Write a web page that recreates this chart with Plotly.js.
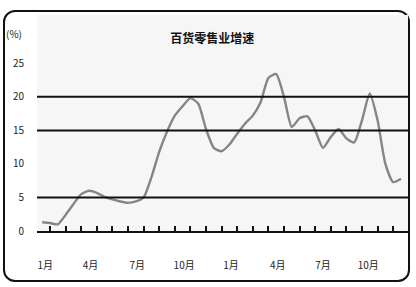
<!DOCTYPE html>
<html>
<head>
<meta charset="utf-8">
<script src="https://cdn.plot.ly/plotly-3.0.1.min.js"></script>
<style>
html,body{margin:0;padding:0;background:#fff;}
#frame{position:absolute;left:3px;top:10px;width:407px;height:272px;border:2px solid #111;border-radius:12px;box-sizing:border-box;}
#chart{position:absolute;left:0;top:0;width:416px;height:287px;}
</style>
</head>
<body>
<div id="frame"></div>
<div id="chart"></div>
<script>
// chart values (growth rate, %)
var periods = [-0.5,0,0.5,1,1.5,2,2.5,3,3.5,4,4.5,5,5.5,6,6.5,7,7.5,8,8.5,9,9.5,10,10.5,11,11.5,12,12.5,13,13.5,14,14.5,15,15.5,16,16.5,17,17.5,18,18.5,19,19.5,20,20.5,21,21.5,22,22.5];
var growth = [1.3,1.2,1.0,2.4,4.0,5.5,6.0,5.7,5.1,4.7,4.4,4.2,4.4,5.0,8.0,11.8,14.8,17.2,18.6,19.8,19.0,15.2,12.4,11.9,12.9,14.5,16.0,17.2,19.2,22.8,23.4,20.0,15.5,16.8,17.1,15.0,12.4,14.0,15.2,13.8,13.2,16.5,20.5,16.5,10.0,7.3,7.8];
var tickPositions = [0,1,2,3,4,5,6,7,8,9,10,11,12,13,14,15,16,17,18,19,20,21,22,23];
var labelPositions = [-0.3,2.6,5.6,8.6,11.6,14.6,17.5,20.4];
var labelTexts = ["1月","4月","7月","10月","1月","4月","7月","10月"];
var yTicks = [0,5,10,15,20,25];
var refLines = [5,15,20];
var titleText = "百货零售业增速";
var unitText = "(%)";

var shapes = refLines.map(function(v){
  return {type:'line', xref:'paper', x0:0, x1:1, yref:'y', y0:v, y1:v, line:{color:'#111', width:2}};
});

var data = [{
  x: periods, y: growth, type:'scatter', mode:'lines',
  line:{color:'#858585', width:2.4, shape:'spline', smoothing:0.6},
  hoverinfo:'skip'
},{
  x: labelPositions, y: labelPositions.map(function(){return null;}), xaxis:'x2', type:'scatter', mode:'lines', showlegend:false, hoverinfo:'skip'
}];

var layout = {
  width:416, height:287,
  margin:{l:37, r:8, t:15, b:56},
  paper_bgcolor:'rgba(0,0,0,0)',
  plot_bgcolor:'#f6f6f6',
  showlegend:false,
  font:{family:'"Noto Sans CJK SC", "DejaVu Sans", sans-serif', color:'#111', size:10},
  title:{text:titleText, x:0.51, xanchor:'center', y:0.865, yanchor:'middle', font:{size:12, color:'#111', family:'"Noto Sans CJK SC", sans-serif', weight:'bold'}},
  xaxis:{range:[-0.833,22.95], tickvals:tickPositions, showticklabels:false, ticks:'inside', ticklen:5, tickwidth:2, tickcolor:'#111',
    showgrid:false, zeroline:false, showline:true, linecolor:'#111', linewidth:2},
  xaxis2:{overlaying:'x', matching:'x', range:[-0.833,22.95], tickvals:labelPositions, ticktext:labelTexts, ticks:'', showgrid:false, zeroline:false, showline:false,
    side:'bottom', anchor:'y', tickfont:{size:10, color:'#222'}, ticklabelstandoff:27},
  yaxis:{range:[0,32.2], tickvals:yTicks, ticktext:yTicks.map(String), showgrid:false, zeroline:false, showline:false, ticks:'',
    tickfont:{size:10, color:'#222'}, ticklabelstandoff:12},
  shapes: shapes,
  annotations:[{text:unitText, xref:'paper', yref:'y', x:-0.09, y:29.5, xanchor:'left', showarrow:false, font:{size:10, color:'#222'}}]
};

Plotly.newPlot('chart', data, layout, {staticPlot:true, displayModeBar:false});
</script>
</body>
</html>
